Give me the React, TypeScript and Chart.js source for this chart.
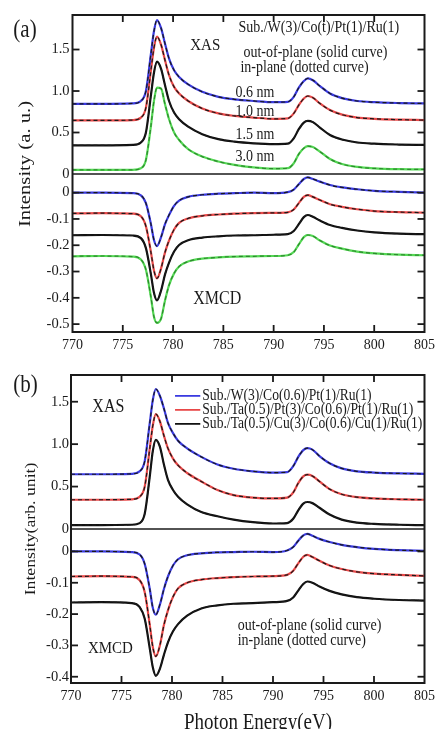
import React, { useEffect, useRef } from 'react';
import { Chart, registerables } from 'chart.js';

Chart.register(...registerables);

// ---------- data ----------
const energy = [770, 773, 776, 776.8, 777.3, 777.8, 778.1, 778.4, 778.8, 779.2, 779.6, 780.1, 780.6, 781.5, 782.9, 784.5, 786.1, 788, 790, 791.4, 792, 792.5, 793, 793.4, 793.9, 794.6, 795.6, 796.8, 798.3, 800, 802.5, 805];

const xTicks = [770, 775, 780, 785, 790, 795, 800, 805];
const xasTicks = [0, 0.5, 1.0, 1.5];
const xmcdTicksA = [0, -0.1, -0.2, -0.3, -0.4, -0.5];
const xmcdTicksB = [0, -0.1, -0.2, -0.3, -0.4];

// panel (a): Sub./W(3)/Co(t)/Pt(1)/Ru(1)
const thicknessLabels = ['0.6 nm', '1.0 nm', '1.5 nm', '3.0 nm'];
const xasA06 = [0.845, 0.845, 0.85, 0.88, 1.0, 1.45, 1.72, 1.855, 1.76, 1.57, 1.39, 1.25, 1.17, 1.08, 0.99, 0.93, 0.9, 0.88, 0.865, 0.87, 0.93, 1.04, 1.12, 1.153, 1.13, 1.06, 0.97, 0.915, 0.88, 0.865, 0.855, 0.85];
const xasA10 = [0.645, 0.645, 0.65, 0.68, 0.8, 1.25, 1.52, 1.655, 1.56, 1.37, 1.19, 1.05, 0.97, 0.88, 0.79, 0.73, 0.70, 0.68, 0.665, 0.67, 0.73, 0.83, 0.91, 0.94, 0.92, 0.85, 0.77, 0.715, 0.68, 0.665, 0.655, 0.65];
const xasA15 = [0.345, 0.345, 0.35, 0.38, 0.5, 0.95, 1.22, 1.353, 1.27, 1.07, 0.88, 0.74, 0.66, 0.57, 0.48, 0.42, 0.39, 0.37, 0.36, 0.365, 0.43, 0.54, 0.62, 0.64, 0.625, 0.56, 0.47, 0.415, 0.38, 0.365, 0.355, 0.35];
const xasA30 = [0.05, 0.05, 0.05, 0.07, 0.17, 0.58, 0.88, 1.04, 1.03, 0.84, 0.66, 0.5, 0.41, 0.3, 0.21, 0.15, 0.11, 0.08, 0.065, 0.07, 0.13, 0.24, 0.31, 0.335, 0.325, 0.27, 0.18, 0.12, 0.085, 0.068, 0.058, 0.055];
const xmcdA06 = [0.0, 0.0, -0.002, -0.01, -0.04, -0.12, -0.18, -0.203, -0.17, -0.12, -0.085, -0.05, -0.03, -0.016, -0.008, -0.004, -0.002, 0.0, -0.002, 0.002, 0.012, 0.032, 0.052, 0.058, 0.052, 0.042, 0.029, 0.02, 0.013, 0.007, 0.003, 0.0];
const xmcdA10 = [-0.079, -0.078, -0.08, -0.09, -0.128, -0.227, -0.296, -0.326, -0.289, -0.227, -0.182, -0.14, -0.115, -0.098, -0.088, -0.083, -0.08, -0.078, -0.077, -0.075, -0.064, -0.04, -0.016, -0.009, -0.016, -0.028, -0.044, -0.054, -0.063, -0.07, -0.074, -0.076];
const xmcdA15 = [-0.162, -0.161, -0.163, -0.173, -0.211, -0.311, -0.381, -0.41, -0.373, -0.311, -0.266, -0.224, -0.199, -0.181, -0.171, -0.166, -0.163, -0.162, -0.16, -0.158, -0.146, -0.12, -0.093, -0.085, -0.092, -0.106, -0.123, -0.134, -0.144, -0.151, -0.156, -0.158];
const xmcdA30 = [-0.242, -0.241, -0.243, -0.254, -0.293, -0.398, -0.472, -0.495, -0.48, -0.41, -0.352, -0.307, -0.281, -0.262, -0.251, -0.246, -0.243, -0.242, -0.241, -0.238, -0.226, -0.197, -0.169, -0.161, -0.165, -0.182, -0.201, -0.213, -0.224, -0.231, -0.236, -0.238];

// panel (b): different under/over layers
const stackLabels = ['Sub./W(3)/Co(0.6)/Pt(1)/Ru(1)', 'Sub./Ta(0.5)/Pt(3)/Co(0.6)/Pt(1)/Ru(1)', 'Sub./Ta(0.5)/Cu(3)/Co(0.6)/Cu(1)/Ru(1)'];
const xasBW = [0.645, 0.645, 0.65, 0.68, 0.8, 1.25, 1.52, 1.65, 1.57, 1.42, 1.25, 1.13, 1.04, 0.95, 0.85, 0.76, 0.71, 0.68, 0.665, 0.67, 0.74, 0.85, 0.93, 0.953, 0.935, 0.86, 0.775, 0.715, 0.68, 0.665, 0.655, 0.65];
const xasBTaPt = [0.345, 0.345, 0.35, 0.38, 0.5, 0.95, 1.22, 1.353, 1.27, 1.1, 0.95, 0.83, 0.75, 0.66, 0.56, 0.46, 0.4, 0.37, 0.36, 0.37, 0.43, 0.54, 0.62, 0.64, 0.625, 0.56, 0.47, 0.41, 0.375, 0.36, 0.35, 0.345];
const xasBTaCu = [0.045, 0.045, 0.05, 0.07, 0.18, 0.62, 0.92, 1.05, 0.97, 0.76, 0.58, 0.46, 0.38, 0.29, 0.2, 0.15, 0.11, 0.08, 0.065, 0.07, 0.12, 0.22, 0.3, 0.318, 0.305, 0.25, 0.17, 0.11, 0.075, 0.06, 0.05, 0.045];
const xmcdBW = [0.0, 0.0, -0.002, -0.01, -0.04, -0.12, -0.18, -0.202, -0.17, -0.12, -0.08, -0.045, -0.025, -0.012, -0.006, -0.003, -0.002, -0.001, -0.002, 0.003, 0.014, 0.034, 0.051, 0.056, 0.05, 0.04, 0.03, 0.021, 0.014, 0.008, 0.004, 0.002];
const xmcdBTaPt = [-0.08, -0.079, -0.081, -0.092, -0.13, -0.235, -0.305, -0.335, -0.3, -0.235, -0.188, -0.145, -0.118, -0.1, -0.09, -0.085, -0.082, -0.08, -0.079, -0.075, -0.062, -0.038, -0.017, -0.011, -0.018, -0.03, -0.045, -0.056, -0.065, -0.071, -0.075, -0.078];
const xmcdBTaCu = [-0.163, -0.162, -0.165, -0.178, -0.215, -0.31, -0.37, -0.397, -0.375, -0.33, -0.29, -0.255, -0.232, -0.205, -0.182, -0.172, -0.167, -0.165, -0.162, -0.158, -0.147, -0.125, -0.104, -0.096, -0.1, -0.112, -0.126, -0.137, -0.146, -0.151, -0.155, -0.157];

// ---------- styling ----------
const FONT = "'Liberation Serif', 'Times New Roman', serif";
const INK = '#1a1a1a';
const BLUE = '#3a3ae0';
const RED = '#e84848';
const BLACK = '#111111';
const GREEN = '#55d855';
const DASH_DARK = '#1a1a1a';
const DASH_GREEN = '#2d8a2d';
const TL = 7;

type Series = { color: string; dash: string; xas: number[]; xmcd: number[] };

const pts = (arr: number[]) => energy.map((e, i) => ({ x: e, y: arr[i] }));

function buildDatasets(series: Series[]) {
  const ds: any[] = [];
  series.forEach((s) => {
    (['xas', 'xmcd'] as const).forEach((k) => {
      const axis = k === 'xas' ? 'yXas' : 'yXmcd';
      ds.push({
        data: pts(s[k]), yAxisID: axis, borderColor: s.color, borderWidth: 2.2,
        pointRadius: 0, cubicInterpolationMode: 'monotone', order: 2, fill: false,
      });
      ds.push({
        data: pts(s[k]), yAxisID: axis, borderColor: s.dash, borderWidth: 1.2, borderDash: [4, 3],
        pointRadius: 0, cubicInterpolationMode: 'monotone', order: 1, fill: false,
      });
    });
  });
  return ds;
}

type TextItem = { text: string; x: number; y: number; axis?: 'yXas' | 'yXmcd'; size: number; align?: CanvasTextAlign; rot?: boolean; baseline?: CanvasTextBaseline };
type LegendItem = { color: string; dash: string; text: string; y: number };

function stretchedText(ctx: CanvasRenderingContext2D, t: TextItem, px: number, py: number) {
  ctx.save();
  ctx.translate(px, py);
  ctx.scale(1, 1.18);
  if (t.rot) ctx.rotate(-Math.PI / 2);
  ctx.font = `${t.size}px ${FONT}`;
  ctx.fillStyle = INK;
  ctx.textAlign = t.align || 'left';
  ctx.textBaseline = t.baseline || 'middle';
  ctx.fillText(t.text, 0, 0);
  ctx.restore();
}

function framePlugin(xmcdTicks: number[], texts: TextItem[], legend: LegendItem[] | null, legendX: number[]) {
  return {
    id: 'frame',
    afterDatasetsDraw(chart: any) {
      const ctx: CanvasRenderingContext2D = chart.ctx;
      const { left, right, top, bottom } = chart.chartArea;
      const xs = chart.scales.x;
      const ya = chart.scales.yXas;
      const ym = chart.scales.yXmcd;
      const line = (x1: number, y1: number, x2: number, y2: number) => {
        ctx.beginPath(); ctx.moveTo(x1, y1); ctx.lineTo(x2, y2); ctx.stroke();
      };
      ctx.save();
      ctx.strokeStyle = INK;
      ctx.lineWidth = 2;
      ctx.strokeRect(left, top, right - left, bottom - top);
      ctx.lineWidth = 1.6;
      line(left, ya.bottom, right, ya.bottom);
      ctx.lineWidth = 1.8;
      xTicks.forEach((v) => {
        if (v <= xs.min || v >= xs.max) return;
        const p = xs.getPixelForValue(v);
        line(p, top, p, top + TL);
        line(p, bottom, p, bottom - TL);
      });
      [[ya, xasTicks], [ym, xmcdTicks]].forEach(([sc, tk]: any) => {
        tk.forEach((v: number) => {
          const p = sc.getPixelForValue(v);
          if (p <= sc.top + 0.5 || p >= sc.bottom - 0.5) return;
          line(left, p, left + TL, p);
          line(right, p, right - TL, p);
        });
      });
      texts.forEach((t) => {
        let px = t.x, py = t.y;
        if (t.axis) {
          px = xs.getPixelForValue(t.x);
          py = chart.scales[t.axis].getPixelForValue(t.y);
        }
        stretchedText(ctx, t, px, py);
      });
      if (legend) {
        legend.forEach((l) => {
          const py = ya.getPixelForValue(l.y);
          const x1 = xs.getPixelForValue(legendX[0]);
          const x2 = xs.getPixelForValue(legendX[1]);
          ctx.strokeStyle = l.color; ctx.lineWidth = 1.8; ctx.setLineDash([]);
          line(x1, py, x2, py);
          stretchedText(ctx, { text: l.text, x: 0, y: 0, size: 13.6 }, xs.getPixelForValue(legendX[2]), py);
        });
      }
      ctx.restore();
    },
  };
}

function makeConfig(opts: {
  series: Series[]; xasMax: number; xmcdMin: number; xmcdMax: number; xmcdTicks: number[];
  yWidth: number; xHeight: number; padRight: number; wXas: number; wXmcd: number; tickPad: number;
  texts: TextItem[]; legend: LegendItem[] | null; legendX: number[];
}): any {
  const tickFont = { family: FONT, size: 14.5 };
  const fmt = (v: any) => (Number(v) === 0 ? '0' : Number(v).toFixed(1));
  const yCommon = {
    type: 'linear', position: 'left', stack: 'panel',
    grid: { display: false, drawTicks: false }, border: { display: false },
    ticks: { font: tickFont, color: INK, padding: opts.tickPad, autoSkip: false, callback: fmt },
    afterFit: (s: any) => { s.width = opts.yWidth; },
  };
  return {
    type: 'line',
    data: { datasets: buildDatasets(opts.series) },
    options: {
      animation: false, responsive: false, parsing: true,
      layout: { padding: { top: 15, right: opts.padRight, left: 0, bottom: 0 } },
      plugins: { legend: { display: false }, tooltip: { enabled: false }, title: { display: false } },
      scales: {
        x: {
          type: 'linear', min: 770, max: 805, position: 'bottom',
          grid: { display: false, drawTicks: false }, border: { display: false },
          ticks: { font: { family: FONT, size: 14 }, color: INK, padding: 5, maxRotation: 0, autoSkip: false, callback: (v: any) => String(v) },
          afterBuildTicks: (s: any) => { s.ticks = xTicks.map((v) => ({ value: v })); },
          afterFit: (s: any) => { s.height = opts.xHeight; },
        },
        yXmcd: {
          ...yCommon, min: opts.xmcdMin, max: opts.xmcdMax, stackWeight: opts.wXmcd, weight: 1,
          afterBuildTicks: (s: any) => { s.ticks = opts.xmcdTicks.map((v) => ({ value: v })); },
        },
        yXas: {
          ...yCommon, min: 0, max: opts.xasMax, stackWeight: opts.wXas, weight: 2,
          afterBuildTicks: (s: any) => { s.ticks = xasTicks.map((v) => ({ value: v })); },
        },
      },
    },
    plugins: [framePlugin(opts.xmcdTicks, opts.texts, opts.legend, opts.legendX)],
  };
}

const configA = () => makeConfig({
  series: [
    { color: BLUE, dash: DASH_DARK, xas: xasA06, xmcd: xmcdA06 },
    { color: RED, dash: DASH_DARK, xas: xasA10, xmcd: xmcdA10 },
    { color: BLACK, dash: DASH_DARK, xas: xasA15, xmcd: xmcdA15 },
    { color: GREEN, dash: DASH_GREEN, xas: xasA30, xmcd: xmcdA30 },
  ],
  xasMax: 1.916, xmcdMin: -0.53, xmcdMax: 0.071, xmcdTicks: xmcdTicksA,
  yWidth: 72.5, xHeight: 28, padRight: 11.5, wXas: 159, wXmcd: 158, tickPad: 3,
  texts: [
    { text: '(a)', x: 25, y: 30, size: 21, align: 'center' },
    { text: 'Intensity (a. u.)', x: 25.5, y: 164, size: 17.5, align: 'center', rot: true },
    { text: 'XAS', x: 783.2, y: 1.554, axis: 'yXas', size: 15, align: 'center' },
    { text: 'Sub./W(3)/Co(t)/Pt(1)/Ru(1)', x: 786.5, y: 1.76, axis: 'yXas', size: 14 },
    { text: 'out-of-plane (solid curve)', x: 787.0, y: 1.46, axis: 'yXas', size: 14 },
    { text: 'in-plane (dotted curve)', x: 786.7, y: 1.28, axis: 'yXas', size: 14 },
    { text: thicknessLabels[0], x: 786.2, y: 0.976, axis: 'yXas', size: 14 },
    { text: thicknessLabels[1], x: 786.2, y: 0.747, axis: 'yXas', size: 14 },
    { text: thicknessLabels[2], x: 786.2, y: 0.47, axis: 'yXas', size: 14 },
    { text: thicknessLabels[3], x: 786.2, y: 0.205, axis: 'yXas', size: 14 },
    { text: 'XMCD', x: 784.4, y: -0.404, axis: 'yXmcd', size: 16, align: 'center' },
  ],
  legend: null, legendX: [],
});

const configB = () => makeConfig({
  series: [
    { color: BLUE, dash: DASH_DARK, xas: xasBW, xmcd: xmcdBW },
    { color: RED, dash: DASH_DARK, xas: xasBTaPt, xmcd: xmcdBTaPt },
    { color: BLACK, dash: DASH_DARK, xas: xasBTaCu, xmcd: xmcdBTaCu },
  ],
  xasMax: 1.815, xmcdMin: -0.42, xmcdMax: 0.0716, xmcdTicks: xmcdTicksB,
  yWidth: 71, xHeight: 46, padRight: 10, wXas: 154, wXmcd: 154, tickPad: 2,
  texts: [
    { text: '(b)', x: 25.5, y: 25, size: 21, align: 'center' },
    { text: 'Intensity(arb. unit)', x: 31, y: 169, size: 15, align: 'center', rot: true },
    { text: 'Photon Energy(eV)', x: 258, y: 369, size: 19, align: 'center', baseline: 'alphabetic' },
    { text: 'XAS', x: 773.7, y: 1.44, axis: 'yXas', size: 16, align: 'center' },
    { text: 'XMCD', x: 773.9, y: -0.308, axis: 'yXmcd', size: 15, align: 'center' },
    { text: 'out-of-plane (solid curve)', x: 786.5, y: -0.237, axis: 'yXmcd', size: 14 },
    { text: 'in-plane (dotted curve)', x: 786.5, y: -0.285, axis: 'yXmcd', size: 14 },
  ],
  legend: [
    { color: BLUE, dash: DASH_DARK, text: stackLabels[0], y: 1.569 },
    { color: RED, dash: DASH_DARK, text: stackLabels[1], y: 1.404 },
    { color: BLACK, dash: DASH_DARK, text: stackLabels[2], y: 1.239 },
  ],
  legendX: [780.3, 782.8, 783.0],
});

function Panel({ make, top, height }: { make: () => any; top: number; height: number }) {
  const ref = useRef<HTMLCanvasElement>(null);
  useEffect(() => {
    const chart = new Chart(ref.current as HTMLCanvasElement, make());
    return () => chart.destroy();
  }, []);
  return (
    <canvas ref={ref} width={440} height={height}
      style={{ position: 'absolute', left: 0, top, width: 440, height, display: 'block' }} />
  );
}

export default function App() {
  return (
    <div style={{ position: 'absolute', left: 0, top: 0, width: 440, height: 729, background: '#fff', overflow: 'hidden' }}>
      <Panel make={configA} top={0} height={360} />
      <Panel make={configB} top={360} height={369} />
    </div>
  );
}
